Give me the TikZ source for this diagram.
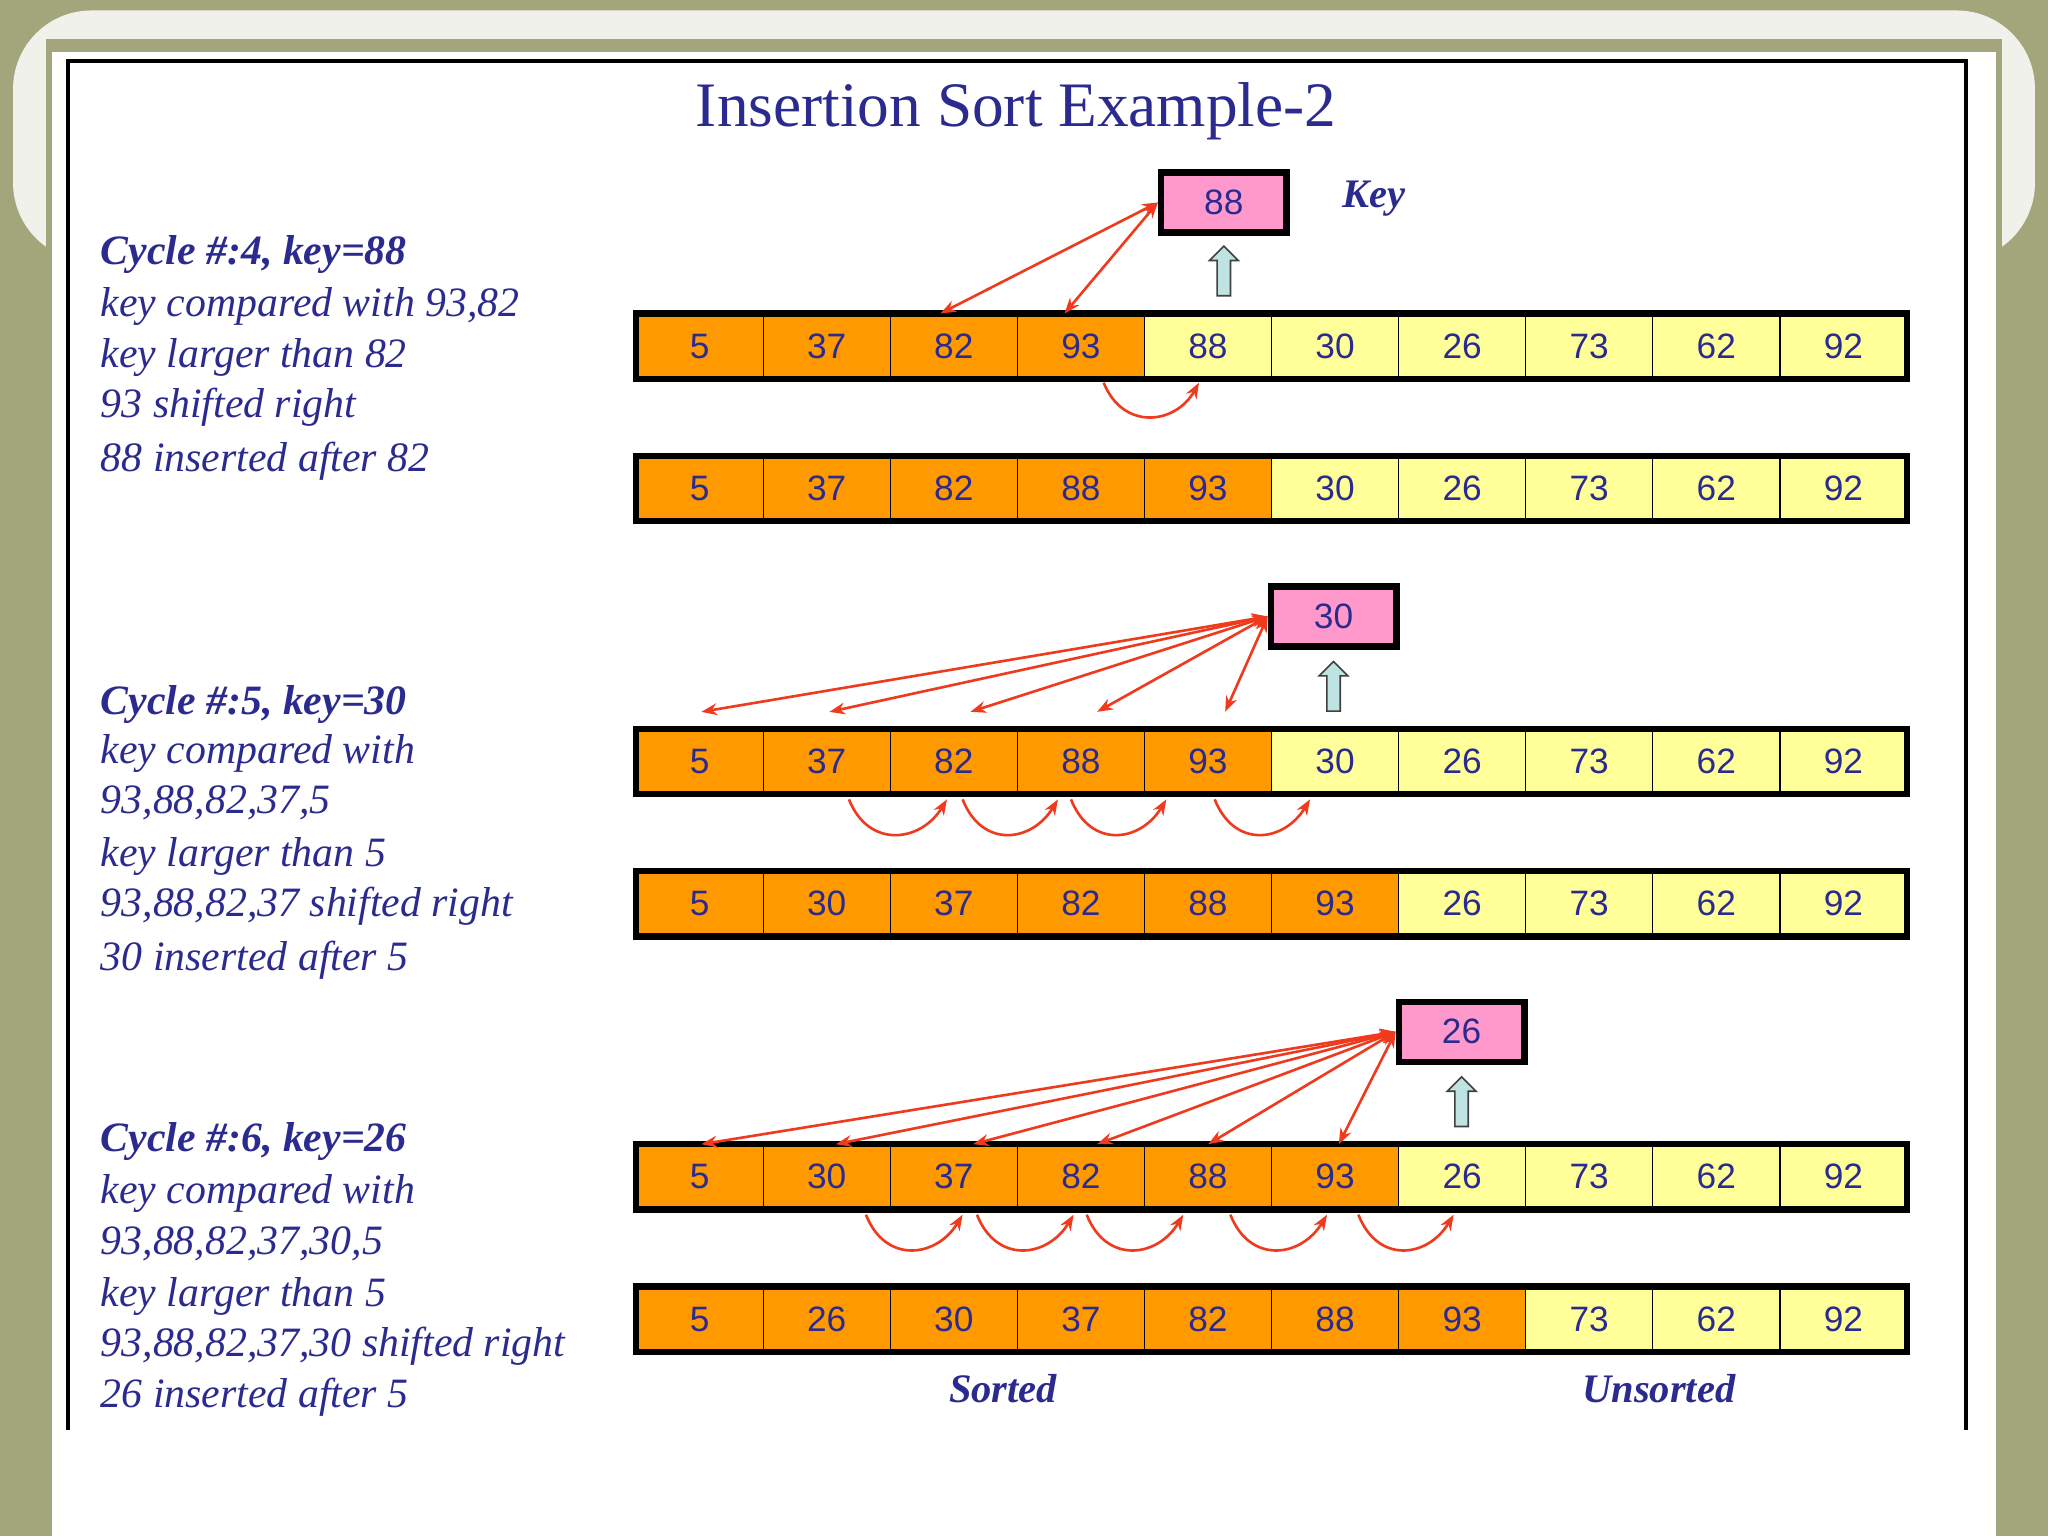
\documentclass[tikz,border=0pt]{standalone}
\usepackage{fontspec}
\setmainfont{Liberation Serif}
\setsansfont{Liberation Sans}
\usetikzlibrary{shapes.arrows,arrows.meta}
\definecolor{navy}{HTML}{2B2B8F}
\definecolor{org}{HTML}{FF9900}
\definecolor{yel}{HTML}{FFFF99}
\definecolor{pnk}{HTML}{FF99CC}
\definecolor{olive}{HTML}{A3A57A}
\definecolor{arr}{HTML}{F03A1E}
\definecolor{upc}{HTML}{BFE3E3}
\tikzset{
 cell/.style={draw=black,line width=1pt,minimum width=97.3pt,minimum height=48pt,inner sep=0pt,font=\sffamily\fontsize{27}{30}\selectfont,text=navy},
 keybox/.style={draw=black,line width=5pt,fill=pnk,minimum width=96pt,minimum height=46pt,inner sep=0pt,font=\sffamily\fontsize{27}{30}\selectfont,text=navy},
 txt/.style={anchor=west,font=\itshape\fontsize{32}{34}\selectfont,text=navy,inner sep=0pt},
 btxt/.style={font=\bfseries\itshape\fontsize{31}{34}\selectfont,text=navy,inner sep=0pt},
 ra/.style={draw=arr,line width=2pt,-{Stealth[length=12pt,width=9pt]}},
 dra/.style={draw=arr,line width=2pt,{Stealth[length=12pt,width=9pt]}-{Stealth[length=12pt,width=9pt]}},
 up/.style={single arrow,shape border rotate=90,draw=black!75,fill=upc,minimum height=38pt,minimum width=22pt,single arrow head extend=3pt,inner sep=2pt,line width=1.2pt}
}
\newcommand{\arow}[4]{% name, y, list, number orange
 \foreach \v [count=\i] in {#3}{
  \pgfmathsetmacro{\cx}{487+97.3*(\i-0.5)}
  \ifnum\i>#4 \def\fc{yel}\else\def\fc{org}\fi
  \node[cell,fill=\fc] (#1\i) at (\cx pt,#2 pt) {\v};
 }
 \draw[line width=5pt] (487pt,#2 pt+25pt) rectangle (1460pt,#2 pt-25pt);
}
\begin{document}
\begin{tikzpicture}[x=1pt,y=-1pt]
\useasboundingbox (0,0) rectangle (1568,1176);
\fill[olive] (0,0) rectangle (1568,1176);
\fill[white!85!olive,rounded corners=60pt] (10,8) rectangle (1558,200);
\fill[olive] (35,30) rectangle (1533,200);
\fill[white] (40,40) rectangle (1528,1176);
\draw[line width=3pt] (52,1095) -- (52,47) -- (1505,47) -- (1505,1095);
\node[font=\fontsize{48.5}{52}\selectfont,text=navy] (title) at (778,85) {Insertion Sort Example-2};
\arow{a}{-265}{5,37,82,93,88,30,26,73,62,92}{4}
\arow{b}{-374}{5,37,82,88,93,30,26,73,62,92}{5}
\arow{c}{-583}{5,37,82,88,93,30,26,73,62,92}{5}
\arow{d}{-692}{5,30,37,82,88,93,26,73,62,92}{6}
\arow{e}{-901}{5,30,37,82,88,93,26,73,62,92}{6}
\arow{f}{-1010}{5,26,30,37,82,88,93,73,62,92}{7}
\node[keybox] (k1) at (937,155) {88};
\node[keybox] (k2) at (1021,472) {30};
\node[keybox] (k3) at (1119,790) {26};
\node[btxt] (keylbl) at (1052,152) {Key};
\node[up] (u1) at (937,210) {};
\node[up] (u2) at (1021,528) {};
\node[up] (u3) at (1119,846) {};
\coordinate (p1) at (720,240); \coordinate (p2) at (815,240);
\draw[dra] (p1) -- (k1.west);
\draw[dra] (p2) -- (k1.west);
\coordinate (c1a) at (845,293); \coordinate (c1b) at (918,293);
\draw[ra] (c1a) .. controls (860,330) and (900,325) .. (c1b);
\foreach \x [count=\i] in {537,635,743,840,938}{
 \coordinate (q\i) at (\x,545);
 \draw[dra] (q\i) -- (k2.west);
}
\foreach \a/\b [count=\i] in {650/725,737/810,820/893,930/1003}{
 \coordinate (r\i a) at (\a,612); \coordinate (r\i b) at (\b,612);
 \draw[ra] (r\i a) .. controls (\a+15,650) and (\b-20,645) .. (r\i b);
}
\foreach \x [count=\i] in {537,640,745,840,925,1025}{
 \coordinate (s\i) at (\x,876);
 \draw[dra] (s\i) -- (k3.west);
}
\foreach \a/\b [count=\i] in {663/737,748/822,832/906,942/1016,1040/1113}{
 \coordinate (t\i a) at (\a,930); \coordinate (t\i b) at (\b,930);
 \draw[ra] (t\i a) .. controls (\a+15,968) and (\b-20,963) .. (t\i b);
}
\node[txt] (l1) at (77,195) {\bfseries Cycle \#:4, key=88};
\node[txt] (l2) at (77,235) {key compared with 93,82};
\node[txt] (l3) at (77,274) {key larger than 82};
\node[txt] (l4) at (77,312) {93 shifted right};
\node[txt] (l5) at (77,353) {88 inserted after 82};
\node[txt] (m1) at (77,539) {\bfseries Cycle \#:5, key=30};
\node[txt] (m2) at (77,577) {key compared with};
\node[txt] (m3) at (77,615) {93,88,82,37,5};
\node[txt] (m4) at (77,656) {key larger than 5};
\node[txt] (m5) at (77,694) {93,88,82,37 shifted right};
\node[txt] (m6) at (77,735) {30 inserted after 5};
\node[txt] (n1) at (77,874) {\bfseries Cycle \#:6, key=26};
\node[txt] (n2) at (77,914) {key compared with};
\node[txt] (n3) at (77,952) {93,88,82,37,30,5};
\node[txt] (n4) at (77,993) {key larger than 5};
\node[txt] (n5) at (77,1031) {93,88,82,37,30 shifted right};
\node[txt] (n6) at (77,1070) {26 inserted after 5};
\node[btxt] (sorted) at (768,1063) {Sorted};
\node[btxt] (unsorted) at (1270,1063) {Unsorted};
\end{tikzpicture}
\end{document}
